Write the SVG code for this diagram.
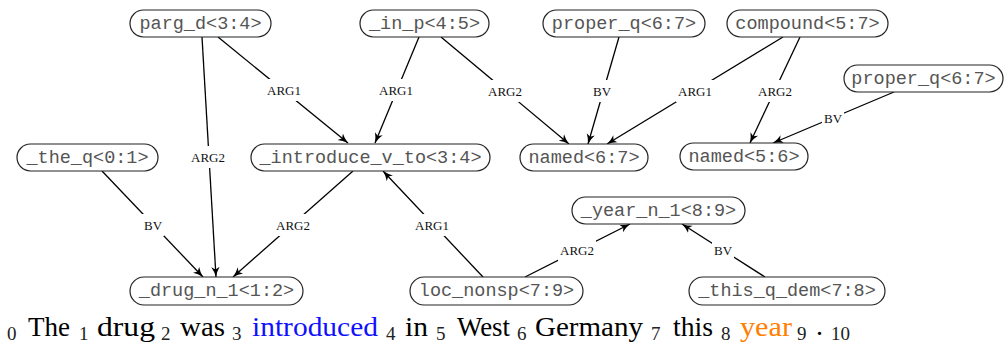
<svg xmlns="http://www.w3.org/2000/svg" width="1005" height="343" viewBox="0 0 1005 343">
<defs>
<style>
.nb{fill:#fff;stroke:#222;stroke-width:1.2}
.nt{font-family:"Liberation Mono","Courier New",monospace;font-size:18.5px;fill:#555;text-anchor:middle}
.e{stroke:#000;stroke-width:1.3;fill:none;marker-end:url(#arr)}
.lb{fill:#fff}
.lt{font-family:"Liberation Serif","Times New Roman",serif;font-size:13px;fill:#111;text-anchor:middle}
.w{font-family:"Liberation Serif","Times New Roman",serif;font-size:28px;fill:#000}
.s{font-family:"Liberation Serif","Times New Roman",serif;font-size:19px;fill:#222}
</style>
<marker id="arr" markerUnits="userSpaceOnUse" markerWidth="12" markerHeight="10" refX="10" refY="5" orient="auto">
<path d="M0,0.8 Q4,3.5 10,5 Q4,6.5 0,9.2 L2.5,5 Z" fill="#000"/>
</marker>
</defs>
<rect width="1005" height="343" fill="#fff"/>
<g id="connectors">
<line class="e" x1="218" y1="37" x2="348" y2="143"/>
<line class="e" x1="202" y1="37" x2="216" y2="277"/>
<line class="e" x1="419" y1="37" x2="375" y2="143"/>
<line class="e" x1="441" y1="37" x2="569" y2="144"/>
<line class="e" x1="619" y1="37" x2="588" y2="144"/>
<line class="e" x1="783" y1="37" x2="607" y2="144"/>
<line class="e" x1="800" y1="37" x2="750" y2="143"/>
<line class="e" x1="894" y1="92" x2="773" y2="143"/>
<line class="e" x1="102" y1="171" x2="203" y2="277"/>
<line class="e" x1="353" y1="171" x2="233" y2="277"/>
<line class="e" x1="483" y1="277" x2="383" y2="171"/>
<line class="e" x1="525" y1="277" x2="630" y2="224"/>
<line class="e" x1="765" y1="277" x2="682" y2="224"/>
<rect class="lb" x="265" y="79" width="38" height="22"/><text class="lt" x="284" y="95">ARG1</text>
<rect class="lb" x="189" y="146" width="38" height="22"/><text class="lt" x="208" y="162">ARG2</text>
<rect class="lb" x="377" y="79" width="38" height="22"/><text class="lt" x="396" y="95">ARG1</text>
<rect class="lb" x="486" y="80" width="38" height="22"/><text class="lt" x="505" y="96">ARG2</text>
<rect class="lb" x="591" y="80" width="22" height="22"/><text class="lt" x="602" y="96">BV</text>
<rect class="lb" x="676" y="80" width="38" height="22"/><text class="lt" x="695" y="96">ARG1</text>
<rect class="lb" x="756" y="80" width="38" height="22"/><text class="lt" x="775" y="96">ARG2</text>
<rect class="lb" x="822" y="107" width="22" height="22"/><text class="lt" x="833" y="123">BV</text>
<rect class="lb" x="142" y="214" width="22" height="22"/><text class="lt" x="153" y="230">BV</text>
<rect class="lb" x="274" y="214" width="38" height="22"/><text class="lt" x="293" y="230">ARG2</text>
<rect class="lb" x="413" y="214" width="38" height="22"/><text class="lt" x="432" y="230">ARG1</text>
<rect class="lb" x="558" y="239" width="38" height="22"/><text class="lt" x="577" y="255">ARG2</text>
<rect class="lb" x="712" y="239" width="22" height="22"/><text class="lt" x="723" y="255">BV</text>
</g>
<g id="n_parg_d"><rect class="nb" x="130" y="10" width="141" height="27" rx="13.5"/><text class="nt" x="200.5" y="28.5">parg_d&lt;3:4&gt;</text></g>
<g id="n_in_p"><rect class="nb" x="360" y="10" width="129" height="27" rx="13.5"/><text class="nt" x="424.5" y="28.5">_in_p&lt;4:5&gt;</text></g>
<g id="n_proper_q_1"><rect class="nb" x="543" y="10" width="162" height="27" rx="13.5"/><text class="nt" x="624" y="28.5">proper_q&lt;6:7&gt;</text></g>
<g id="n_compound"><rect class="nb" x="727" y="10" width="161" height="27" rx="13.5"/><text class="nt" x="807.5" y="28.5">compound&lt;5:7&gt;</text></g>
<g id="n_proper_q_2"><rect class="nb" x="844" y="65" width="159" height="27" rx="13.5"/><text class="nt" x="923.5" y="83.5">proper_q&lt;6:7&gt;</text></g>
<g id="n_the_q"><rect class="nb" x="17" y="144" width="141" height="27" rx="13.5"/><text class="nt" x="87.5" y="162.5">_the_q&lt;0:1&gt;</text></g>
<g id="n_introduce"><rect class="nb" x="251" y="144" width="239" height="27" rx="13.5"/><text class="nt" x="370.5" y="162.5">_introduce_v_to&lt;3:4&gt;</text></g>
<g id="n_named_67"><rect class="nb" x="520" y="144" width="128" height="27" rx="13.5"/><text class="nt" x="584" y="162.5">named&lt;6:7&gt;</text></g>
<g id="n_named_56"><rect class="nb" x="680" y="143" width="128" height="27" rx="13.5"/><text class="nt" x="744" y="161.5">named&lt;5:6&gt;</text></g>
<g id="n_year"><rect class="nb" x="572" y="197" width="173" height="27" rx="13.5"/><text class="nt" x="658.5" y="215.5">_year_n_1&lt;8:9&gt;</text></g>
<g id="n_drug"><rect class="nb" x="130" y="277" width="173" height="28" rx="14"/><text class="nt" x="216.5" y="296">_drug_n_1&lt;1:2&gt;</text></g>
<g id="n_loc_nonsp"><rect class="nb" x="410" y="277" width="173" height="28" rx="14"/><text class="nt" x="496.5" y="296">loc_nonsp&lt;7:9&gt;</text></g>
<g id="n_this_q_dem"><rect class="nb" x="689" y="277" width="196" height="28" rx="14"/><text class="nt" x="787" y="296">_this_q_dem&lt;7:8&gt;</text></g>
<g id="sentence">
<text class="s" x="7" y="340">0</text>
<text class="w" x="28" y="336" textLength="42" lengthAdjust="spacingAndGlyphs">The</text>
<text class="s" x="79" y="340">1</text>
<text class="w" x="97" y="336" textLength="58" lengthAdjust="spacingAndGlyphs">drug</text>
<text class="s" x="161" y="340">2</text>
<text class="w" x="180" y="336" textLength="45" lengthAdjust="spacingAndGlyphs">was</text>
<text class="s" x="232" y="340">3</text>
<text class="w" x="252" y="336" textLength="126" lengthAdjust="spacingAndGlyphs" style="fill:#1010ff">introduced</text>
<text class="s" x="386" y="340">4</text>
<text class="w" x="405" y="336" textLength="23" lengthAdjust="spacingAndGlyphs">in</text>
<text class="s" x="436" y="340">5</text>
<text class="w" x="457" y="336" textLength="53" lengthAdjust="spacingAndGlyphs">West</text>
<text class="s" x="517" y="340">6</text>
<text class="w" x="535" y="336" textLength="108" lengthAdjust="spacingAndGlyphs">Germany</text>
<text class="s" x="651" y="340">7</text>
<text class="w" x="673" y="336" textLength="40" lengthAdjust="spacingAndGlyphs">this</text>
<text class="s" x="721" y="340">8</text>
<text class="w" x="740" y="336" textLength="52" lengthAdjust="spacingAndGlyphs" style="fill:#ff8000">year</text>
<text class="s" x="797" y="340">9</text>
<text class="w" x="816" y="335">.</text>
<text class="s" x="831" y="340">10</text>
</g>
</svg>
